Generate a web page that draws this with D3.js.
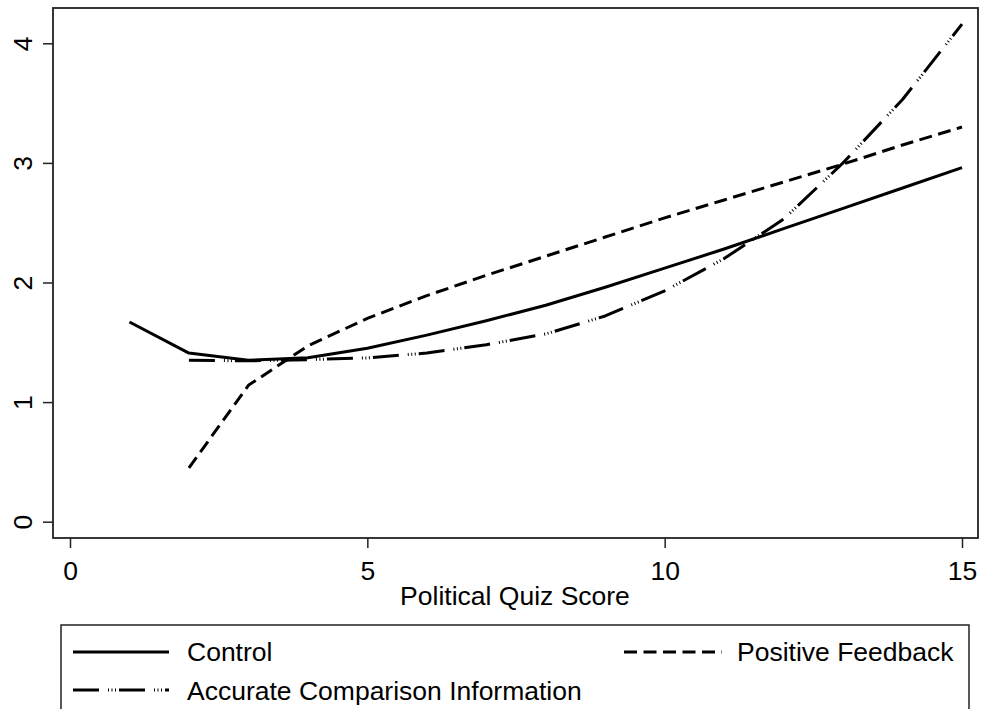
<!DOCTYPE html>
<html>
<head>
<meta charset="utf-8">
<script src="https://cdn.jsdelivr.net/npm/d3@7"></script>
<style>
  html, body { margin: 0; padding: 0; background: #fff; }
  svg { display: block; font-family: "Liberation Sans", Arial, sans-serif; }
</style>
</head>
<body>
<svg id="chart" width="981" height="709"></svg>
<script>
// Fitted values by political quiz score for each experimental condition
const controlX = [1, 2, 3, 4, 5, 6, 7, 8, 9, 10, 11, 12, 13, 14, 15];
const controlY = [1.67, 1.41, 1.35, 1.37, 1.45, 1.56, 1.68, 1.81, 1.96, 2.12, 2.28, 2.45, 2.62, 2.79, 2.96];

const positiveX = [2, 3, 4, 5, 6, 7, 8, 9, 10, 11, 12, 13, 14, 15];
const positiveY = [0.45, 1.14, 1.47, 1.70, 1.89, 2.06, 2.22, 2.38, 2.54, 2.69, 2.84, 2.99, 3.15, 3.30];

const accurateX = [2, 3, 4, 5, 6, 7, 8, 9, 10, 11, 12, 13, 14, 15];
const accurateY = [1.35, 1.345, 1.355, 1.37, 1.41, 1.48, 1.57, 1.72, 1.93, 2.20, 2.53, 3.00, 3.53, 4.16];

const xTicks = [0, 5, 10, 15];
const yTicks = [0, 1, 2, 3, 4];
const xTitle = "Political Quiz Score";
const seriesNames = ["Control", "Positive Feedback", "Accurate Comparison Information"];

const svg = d3.select("#chart");
const FONT = 26.5;
const STROKE = 3;
const dashStyles = {
  "Control": null,
  "Positive Feedback": "13 6.5",
  "Accurate Comparison Information": "26 9 1 2.5 1 2.5 1 3"
};

// plot region
const frame = { left: 53, right: 978, top: 8, bottom: 538 };
const x = d3.scaleLinear().domain([0, 15]).range([70, 962]);
const y = d3.scaleLinear().domain([0, 4]).range([521.7, 43.3]);

// frame around the plot
svg.append("rect")
  .attr("x", frame.left).attr("y", frame.top)
  .attr("width", frame.right - frame.left)
  .attr("height", frame.bottom - frame.top)
  .attr("fill", "none").attr("stroke", "#222").attr("stroke-width", 1.8);

// y axis
const yAxis = d3.axisLeft(y).tickValues(yTicks).tickSize(10).tickPadding(0).tickFormat(d3.format("d"));
const gy = svg.append("g").attr("transform", `translate(${frame.left},0)`).call(yAxis);
gy.select(".domain").remove();
gy.selectAll(".tick line").attr("stroke", "#222").attr("stroke-width", 1.5);
gy.selectAll(".tick text")
  .attr("x", null).attr("dy", null)
  .attr("transform", "translate(-21,0) rotate(-90)")
  .attr("text-anchor", "middle")
  .attr("font-size", FONT).attr("fill", "#000")
  .attr("font-family", "Liberation Sans, Arial, sans-serif");

// x axis
const xAxis = d3.axisBottom(x).tickValues(xTicks).tickSize(10).tickPadding(0).tickFormat(d3.format("d"));
const gx = svg.append("g").attr("transform", `translate(0,${frame.bottom})`).call(xAxis);
gx.select(".domain").remove();
gx.selectAll(".tick line").attr("stroke", "#222").attr("stroke-width", 1.5);
gx.selectAll(".tick text")
  .attr("y", 42).attr("dy", null)
  .attr("font-size", FONT).attr("fill", "#000")
  .attr("font-family", "Liberation Sans, Arial, sans-serif");

svg.append("text")
  .attr("x", (x(0) + x(15)) / 2 - 1).attr("y", 605)
  .attr("text-anchor", "middle")
  .attr("font-size", FONT)
  .text(xTitle);

// series lines
const line = d3.line().x(d => x(d[0])).y(d => y(d[1]));
const series = [
  { name: seriesNames[0], pts: d3.zip(controlX, controlY) },
  { name: seriesNames[1], pts: d3.zip(positiveX, positiveY) },
  { name: seriesNames[2], pts: d3.zip(accurateX, accurateY) }
];
svg.append("g").selectAll("path")
  .data(series)
  .join("path")
  .attr("d", d => line(d.pts))
  .attr("fill", "none")
  .attr("stroke", "#000")
  .attr("stroke-width", STROKE)
  .attr("stroke-linejoin", "round")
  .attr("stroke-dasharray", d => dashStyles[d.name]);

// legend
const lg = svg.append("g");
lg.append("rect")
  .attr("x", 61).attr("y", 625)
  .attr("width", 908).attr("height", 92)
  .attr("fill", "none").attr("stroke", "#222").attr("stroke-width", 1.5);

const legendItems = [
  { name: seriesNames[0], x0: 73, x1: 169, ly: 652, tx: 187, ty: 661 },
  { name: seriesNames[1], x0: 624, x1: 722, ly: 652, tx: 737, ty: 661 },
  { name: seriesNames[2], x0: 73, x1: 169, ly: 690, tx: 187, ty: 700 }
];
legendItems.forEach(it => {
  lg.append("line")
    .attr("x1", it.x0).attr("x2", it.x1)
    .attr("y1", it.ly).attr("y2", it.ly)
    .attr("stroke", "#000").attr("stroke-width", STROKE)
    .attr("stroke-dasharray", dashStyles[it.name]);
  lg.append("text")
    .attr("x", it.tx).attr("y", it.ty)
    .attr("font-size", FONT)
    .text(it.name);
});
</script>
</body>
</html>
